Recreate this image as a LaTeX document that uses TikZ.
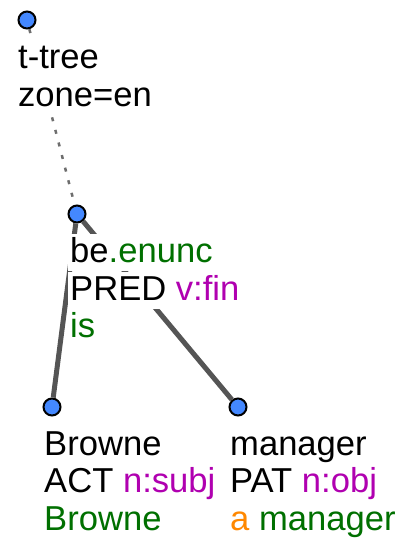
\documentclass[tikz,border=0pt]{standalone}
\usepackage{fontspec}
\setmainfont{Liberation Sans}
\definecolor{tgreen}{RGB}{0,112,0}
\definecolor{tpurple}{RGB}{176,0,176}
\definecolor{torange}{RGB}{255,136,0}
\definecolor{tblue}{RGB}{68,136,255}
\definecolor{tedgec}{RGB}{85,85,85}
\begin{document}
\begin{tikzpicture}[x=1pt,y=-1pt,
  tnode/.style={circle,draw=black,line width=2pt,fill=tblue,minimum size=17pt,inner sep=0pt},
  tline/.style={anchor=base west,fill=white,inner xsep=2pt,inner ysep=0pt,text height=28pt,text depth=9pt,font=\fontsize{34.6}{38}\selectfont},
  tedge/.style={draw=tedgec,line width=5pt},
  lexedge/.style={draw=tedgec!85,line width=2.5pt,dash pattern=on 4pt off 9pt}]
\useasboundingbox (0,0) rectangle (409,544);
% tree nodes
\node[tnode] (n0) at (27,20) {};
\node[tnode] (n1) at (77,214) {};
\node[tnode] (n2) at (52,407) {};
\node[tnode] (n3) at (238,407) {};
% connectors
\draw[lexedge] (n0) -- (n1);
\draw[tedge] (n1) -- (n2);
\draw[tedge] (n1) -- (n3);
% labels
\node[tline] (l0a) at (16,68) {t-tree};
\node[tline] (l0b) at (16,106) {zone=en};
\node[tline] (l1a) at (68,262) {be\textcolor{tgreen}{.enunc}};
\node[tline] (l1b) at (68,300) {PRED \textcolor{tpurple}{v:fin}};
\node[tline] (l1c) at (68,337) {\textcolor{tgreen}{is}};
\node[tline] (l2a) at (42,455) {Browne};
\node[tline] (l2b) at (42,492) {ACT \textcolor{tpurple}{n:subj}};
\node[tline] (l2c) at (42,530) {\textcolor{tgreen}{Browne}};
\node[tline] (l3a) at (228,455) {manager};
\node[tline] (l3b) at (228,492) {PAT \textcolor{tpurple}{n:obj}};
\node[tline] (l3c) at (228,530) {\textcolor{torange}{a} \textcolor{tgreen}{manager}};
\end{tikzpicture}
\end{document}
